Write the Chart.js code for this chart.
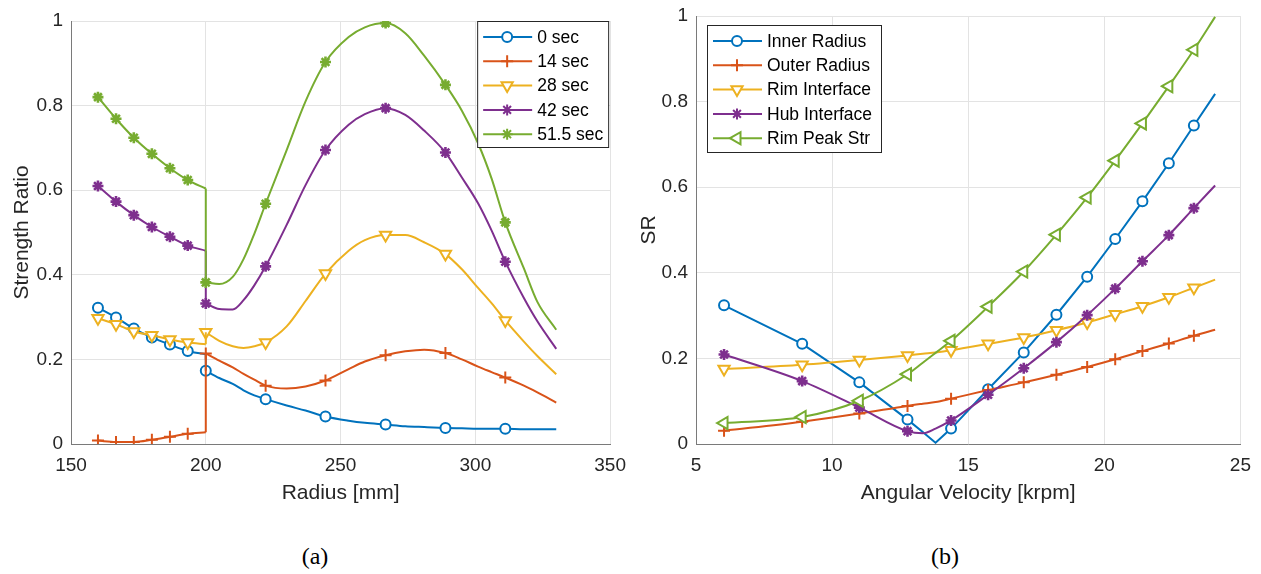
<!DOCTYPE html>
<html>
<head>
<meta charset="utf-8">
<script src="https://cdn.jsdelivr.net/npm/chart.js@4.4.0/dist/chart.umd.min.js"></script>
<style>
  body { margin: 0; background: #fff; width: 1261px; height: 574px; overflow: hidden; position: relative; }
  canvas { position: absolute; top: 0; }
  #chartA { left: 0; }
  #chartB { left: 630px; }
  .cap { position: absolute; top: 542px; width: 60px; text-align: center; font-family: "Liberation Serif", "Times New Roman", serif; font-size: 24px; line-height: 28px; color: #000; }
</style>
</head>
<body>
<canvas id="chartA" width="636" height="520"></canvas>
<canvas id="chartB" width="631" height="520"></canvas>
<div class="cap" style="left:285px">(a)</div>
<div class="cap" style="left:915px">(b)</div>
<script>
// ---- (a) strength ratio vs radius ----
var radiusInner = [160, 166.7, 173.3, 180, 186.7, 193.3, 200];
var radiusOuter = [200, 205, 210, 214, 218, 222.2, 230, 237, 244.4, 253, 259, 266.7, 274, 281, 288.9, 295, 301, 306, 311.1, 318, 323, 330];
var markersInnerA = [160, 166.7, 173.3, 180, 186.7, 193.3];
var markersOuterA = [200, 222.2, 244.4, 266.7, 288.9, 311.1];
var timeLabels = ['0 sec', '14 sec', '28 sec', '42 sec', '51.5 sec'];

var ratio0sInner = [0.322, 0.299, 0.273, 0.252, 0.235, 0.220, 0.212];
var ratio0sOuter = [0.173, 0.156, 0.142, 0.127, 0.115, 0.106, 0.091, 0.079, 0.065, 0.055, 0.050, 0.046, 0.042, 0.040, 0.038, 0.037, 0.036, 0.036, 0.036, 0.035, 0.035, 0.035];
var ratio14sInner = [0.008, 0.005, 0.005, 0.010, 0.017, 0.024, 0.028];
var ratio14sOuter = [0.214, 0.197, 0.181, 0.166, 0.152, 0.138, 0.131, 0.136, 0.150, 0.177, 0.195, 0.210, 0.219, 0.223, 0.215, 0.200, 0.183, 0.170, 0.157, 0.138, 0.122, 0.098];
var ratio28sInner = [0.297, 0.283, 0.266, 0.257, 0.247, 0.240, 0.236];
var ratio28sOuter = [0.264, 0.244, 0.231, 0.227, 0.231, 0.240, 0.278, 0.338, 0.403, 0.457, 0.482, 0.494, 0.494, 0.477, 0.449, 0.413, 0.369, 0.333, 0.292, 0.242, 0.208, 0.165];
var ratio42sInner = [0.610, 0.573, 0.541, 0.513, 0.490, 0.469, 0.457];
var ratio42sOuter = [0.332, 0.319, 0.318, 0.340, 0.375, 0.420, 0.518, 0.612, 0.695, 0.755, 0.780, 0.794, 0.778, 0.741, 0.689, 0.630, 0.569, 0.505, 0.431, 0.345, 0.290, 0.225];
var ratio51sInner = [0.820, 0.769, 0.724, 0.686, 0.652, 0.624, 0.604];
var ratio51sOuter = [0.382, 0.378, 0.395, 0.437, 0.497, 0.568, 0.695, 0.810, 0.903, 0.962, 0.985, 0.995, 0.971, 0.918, 0.849, 0.788, 0.711, 0.628, 0.524, 0.415, 0.336, 0.270];

// ---- (b) SR vs angular velocity ----
var speedKrpm = [6.03, 8.9, 11.0, 12.77, 13.33, 13.8, 14.37, 15.73, 17.04, 18.24, 19.37, 20.4, 21.4, 22.37, 23.29, 24.07];
var markersB = [6.03, 8.9, 11.0, 12.77, 14.37, 15.73, 17.04, 18.24, 19.37, 20.4, 21.4, 22.37, 23.29];
var locationLabels = ['Inner Radius', 'Outer Radius', 'Rim Interface', 'Hub Interface', 'Rim Peak Str'];

var srInner   = [0.324, 0.234, 0.144, 0.057, 0.028, 0.003, 0.036, 0.128, 0.214, 0.302, 0.391, 0.479, 0.567, 0.656, 0.744, 0.818];
var srOuter   = [0.031, 0.052, 0.071, 0.089, 0.094, 0.098, 0.106, 0.126, 0.144, 0.162, 0.180, 0.198, 0.217, 0.235, 0.253, 0.267];
var srRim     = [0.175, 0.185, 0.196, 0.207, 0.211, 0.214, 0.219, 0.234, 0.249, 0.266, 0.284, 0.303, 0.322, 0.343, 0.365, 0.384];
var srHub     = [0.209, 0.147, 0.085, 0.030, 0.025, 0.036, 0.055, 0.115, 0.177, 0.238, 0.301, 0.363, 0.427, 0.488, 0.551, 0.604];
var srRimPeak = [0.049, 0.063, 0.101, 0.163, 0.190, 0.213, 0.241, 0.321, 0.403, 0.489, 0.576, 0.662, 0.749, 0.836, 0.921, 0.998];

var ticksRadius = [150, 200, 250, 300, 350];
var ticksSpeed = [5, 10, 15, 20, 25];
var ticksRatio = [0, 0.2, 0.4, 0.6, 0.8, 1];

// styles
var colors = ['#0072BD', '#D95319', '#EDB120', '#7E2F8E', '#77AC30'];
var markersStyleA = [
    { style: 'circle', rot: 0, r: 5, w: 2 },
    { style: 'cross', rot: 0, r: 6, w: 2 },
    { style: 'triangle', rot: 180, r: 6.5, w: 2 },
    { style: 'star', rot: 0, r: 5.5, w: 2.6 },
    { style: 'star', rot: 0, r: 5.5, w: 2.6 }
];
var markersStyleB = [
    { style: 'circle', rot: 0, r: 5, w: 2 },
    { style: 'cross', rot: 0, r: 6, w: 2 },
    { style: 'triangle', rot: 180, r: 6.5, w: 2 },
    { style: 'star', rot: 0, r: 5.5, w: 2.6 },
    { style: 'triangle', rot: 270, r: 7, w: 2 }
];
var fontFamily = '"Liberation Sans", Arial, Helvetica, sans-serif';
Chart.defaults.font.family = fontFamily;

function xy(xs, ys) {
    return xs.map(function (x, i) { return { x: x, y: ys[i] }; });
}

function lineSet(data, idx, mk, marks, extra) {
    var ds = {
        data: data,
        borderColor: colors[idx],
        borderWidth: 2,
        fill: false,
        cubicInterpolationMode: 'monotone',
        pointStyle: mk.style,
        pointRotation: mk.rot,
        pointBorderColor: colors[idx],
        pointBackgroundColor: '#fff',
        pointBorderWidth: mk.w,
        pointRadius: function (ctx) {
            var p = data[ctx.dataIndex];
            return p && marks.indexOf(p.x) >= 0 ? mk.r : 0;
        },
        order: 10 - idx
    };
    for (var k in extra) ds[k] = extra[k];
    return ds;
}

var legendBox = {
    id: 'legendBox',
    afterDraw: function (chart, args, opts) {
        var ctx = chart.ctx, area = chart.chartArea;
        var left = opts.alignRight ? area.right - opts.offsetX - opts.width : area.left + opts.offsetX;
        var top = area.top + opts.offsetY;
        ctx.save();
        ctx.fillStyle = '#fff';
        ctx.fillRect(left, top, opts.width, opts.height);
        ctx.strokeStyle = '#262626';
        ctx.lineWidth = 1;
        ctx.strokeRect(left + 0.5, top + 0.5, opts.width, opts.height);
        opts.labels.forEach(function (label, i) {
            var y = top + opts.firstRow + i * opts.rowStep;
            ctx.strokeStyle = colors[i];
            ctx.lineWidth = 2;
            ctx.beginPath();
            ctx.moveTo(left + 6, y);
            ctx.lineTo(left + 55, y);
            ctx.stroke();
            var m = opts.markers[i];
            ctx.fillStyle = '#fff';
            Chart.helpers.drawPoint(ctx, { pointStyle: m.style, radius: m.r, rotation: m.rot, borderWidth: m.w }, left + 30, y);
            ctx.fillStyle = '#000';
            ctx.font = '17.5px ' + fontFamily;
            ctx.textAlign = 'left';
            ctx.textBaseline = 'middle';
            ctx.fillText(label, left + 60, y + 1);
        });
        ctx.restore();
    }
};

function axisX(min, max, ticksArr, title) {
    return {
        type: 'linear', min: min, max: max,
        afterBuildTicks: function (s) { s.ticks = ticksArr.map(function (v) { return { value: v }; }); },
        afterFit: function (s) { s.height = 76; },
        grid: { color: '#e3e3e3', drawTicks: false },
        border: { color: '#7a7a7a', width: 1 },
        ticks: { color: '#262626', font: { size: 19 }, padding: 10, maxRotation: 0,
                 callback: function (v) { return String(v); } },
        title: { display: true, text: title, color: '#262626', font: { size: 21 }, padding: { top: 0, bottom: 14 } }
    };
}

function axisY(width, titlePad, title) {
    return {
        type: 'linear', min: 0, max: 1,
        afterBuildTicks: function (s) { s.ticks = ticksRatio.map(function (v) { return { value: v }; }); },
        afterFit: function (s) { s.width = width; },
        grid: { color: '#e3e3e3', drawTicks: false },
        border: { color: '#7a7a7a', width: 1 },
        ticks: { color: '#262626', font: { size: 19, lineHeight: 0.6 }, padding: 8,
                 callback: function (v) { return String(Math.round(v * 10) / 10); } },
        title: { display: true, text: title, color: '#262626', font: { size: 21 }, padding: { top: titlePad, bottom: 0 } }
    };
}

// build (a)
var innerA = [ratio0sInner, ratio14sInner, ratio28sInner, ratio42sInner, ratio51sInner];
var outerA = [ratio0sOuter, ratio14sOuter, ratio28sOuter, ratio42sOuter, ratio51sOuter];
var dataSetsA = [];
innerA.forEach(function (inner, i) {
    var outer = outerA[i];
    dataSetsA.push(lineSet(xy(radiusInner, inner), i, markersStyleA[i], markersInnerA, {}));
    // vertical step at the rim/hub boundary (r = 200 mm)
    dataSetsA.push(lineSet([{ x: 200, y: inner[inner.length - 1] }, { x: 200, y: outer[0] }], i, markersStyleA[i], [],
        { cubicInterpolationMode: 'default', tension: 0 }));
    dataSetsA.push(lineSet(xy(radiusOuter, outer), i, markersStyleA[i], markersOuterA, {}));
});

new Chart(document.getElementById('chartA'), {
    type: 'line',
    data: { datasets: dataSetsA },
    options: {
        responsive: false,
        animation: false,
        events: [],
        layout: { padding: { left: 0, right: 20, top: 21, bottom: 0 } },
        scales: {
            x: axisX(150, 350, ticksRadius, 'Radius [mm]'),
            y: axisY(71, 10, 'Strength Ratio')
        },
        plugins: {
            legend: { display: false },
            tooltip: { enabled: false },
            legendBox: { labels: timeLabels, markers: markersStyleA, alignRight: true, offsetX: 2, offsetY: 0,
                         width: 131, height: 126, firstRow: 16, rowStep: 24.3 }
        }
    },
    plugins: [legendBox]
});

// build (b)
var seriesB = [srInner, srOuter, srRim, srHub, srRimPeak];
var dataSetsB = seriesB.map(function (vals, i) {
    // inner radius has a sharp V at its zero crossing
    var extra = i === 0 ? { cubicInterpolationMode: 'default', tension: 0 } : {};
    return lineSet(xy(speedKrpm, vals), i, markersStyleB[i], markersB, extra);
});

new Chart(document.getElementById('chartB'), {
    type: 'line',
    data: { datasets: dataSetsB },
    options: {
        responsive: false,
        animation: false,
        events: [],
        layout: { padding: { left: 0, right: 20, top: 16, bottom: 0 } },
        scales: {
            x: axisX(5, 25, ticksSpeed, 'Angular Velocity [krpm]'),
            y: axisY(66, 7, 'SR')
        },
        plugins: {
            legend: { display: false },
            tooltip: { enabled: false },
            legendBox: { labels: locationLabels, markers: markersStyleB, alignRight: false, offsetX: 11, offsetY: 9,
                         width: 174, height: 127, firstRow: 16, rowStep: 24.3 }
        }
    },
    plugins: [legendBox]
});
</script>
</body>
</html>
